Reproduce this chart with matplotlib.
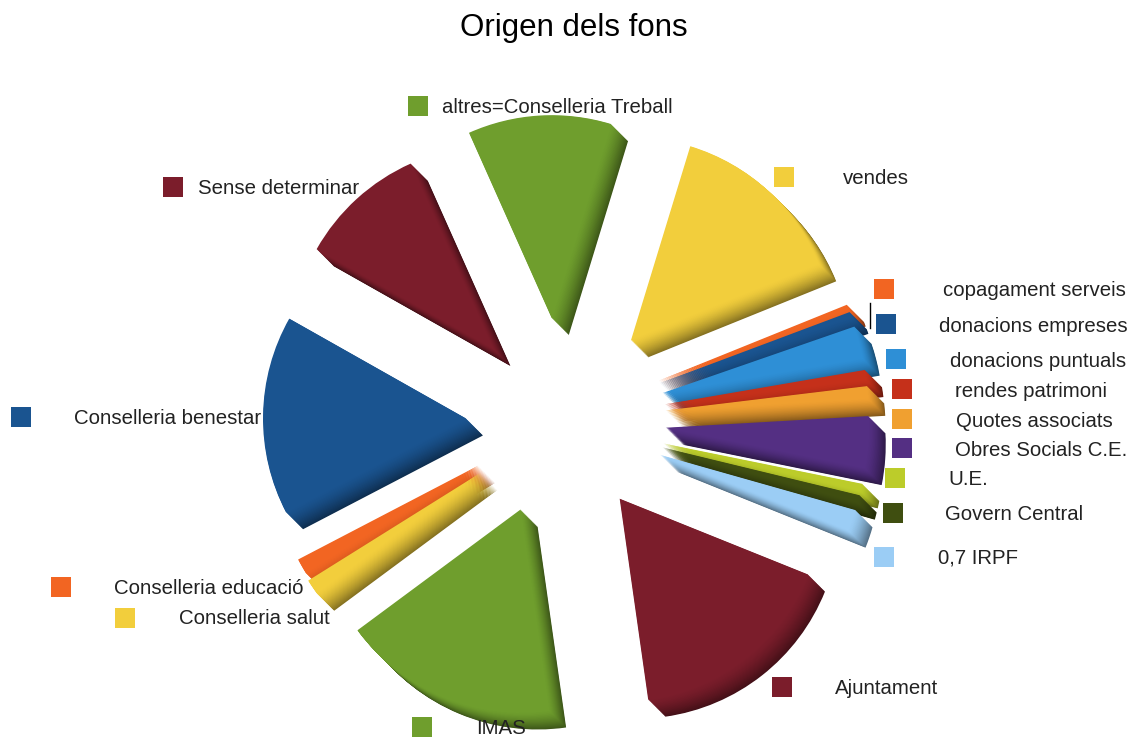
import numpy as np
import matplotlib
matplotlib.use('Agg')
import matplotlib.pyplot as plt
from matplotlib.colors import to_rgb
from matplotlib.patches import Rectangle

plt.rcParams['font.family'] = ['Liberation Sans', 'DejaVu Sans']

# slices, anticlockwise starting from vendes (values in %)
labels = ['vendes', 'altres=Conselleria Treball', 'Sense determinar', 'Conselleria benestar',
          'Conselleria educació', 'Conselleria salut', 'IMAS', 'Ajuntament', '0,7 IRPF',
          'Govern Central', 'U.E.', 'Obres Socials C.E.', 'Quotes associats',
          'rendes patrimoni', 'donacions puntuals', 'donacions empreses', 'copagament serveis']
values = [14.17, 11.4, 10.14, 15.83, 1.25, 1.25, 17.1, 16.67, 1.7, 0.6, 0.6, 4.1, 1.0, 0.8, 2.6, 0.4, 0.4]
colors = ['#F2CE3C', '#6F9E2D', '#7B1D2B', '#1A5490', '#F26522', '#F2CE3C', '#6F9E2D', '#7B1D2B',
          '#9BCDF5', '#3F4E10', '#BCCC2A', '#542F83', '#F0A030', '#C5301A', '#2E8FD6', '#1A5490', '#F26522']
# pie() does not scale explode by the radius, so this is in pixels
explode = [108, 102, 96, 92, 92, 94, 97, 100, 108, 108, 108, 108, 108, 108, 108, 108, 108]

# legend square (x, y) and text (x, y) in pixels of the image
square_pos = [(784, 177), (418, 106), (173, 187), (21, 417), (61, 587), (125, 618), (422, 727), (782, 687),
              (884, 557), (893, 513), (895, 478), (902, 448), (902, 419), (902, 389), (896, 359), (886, 324), (884, 289)]
text_pos = [(843, 178), (442, 107), (198, 188), (74, 418), (114, 588), (179, 619), (476, 728), (835, 688),
            (938, 558), (945, 514), (948, 479), (955, 450), (956, 421), (955, 391), (950, 361), (939, 326), (943, 290)]

W, H = 1132, 737
cx, cy = 558, H - 420
radius = 203
depth = (17, -17)
layers = 30

fig = plt.figure(figsize=(W / 100, H / 100), dpi=100)
ax = fig.add_axes([0, 0, 1, 1])

# side of the slices, dark at the far end
for i in range(layers, 0, -1):
    f = i / layers
    shade = 1 - 0.45 * f ** 1.5
    c = [tuple(np.array(to_rgb(col)) * shade) for col in colors]
    ax.pie(values, explode=explode, colors=c, startangle=22, counterclock=True, radius=radius,
           center=(cx + depth[0] * f, cy + depth[1] * f), frame=True, wedgeprops={'linewidth': 0})

ax.pie(values, explode=explode, colors=colors, startangle=22, counterclock=True, radius=radius,
       center=(cx, cy), frame=True, wedgeprops={'linewidth': 0})

for lab, col, (sx, sy), (tx, ty) in zip(labels, colors, square_pos, text_pos):
    ax.add_patch(Rectangle((sx - 10, H - sy - 10), 20, 20, color=col, lw=0))
    ax.text(tx, H - ty, lab, fontsize=14.7, color='#222222', va='center', ha='left')

ax.plot([870, 870], [H - 303, H - 328], color='black', lw=1)
ax.text(574, H - 28, 'Origen dels fons', fontsize=22.5, color='black', ha='center', va='center')

ax.set_xlim(0, W)
ax.set_ylim(0, H)
ax.set_aspect('equal')
ax.axis('off')
fig.savefig('out.png', dpi=100, facecolor='white')
